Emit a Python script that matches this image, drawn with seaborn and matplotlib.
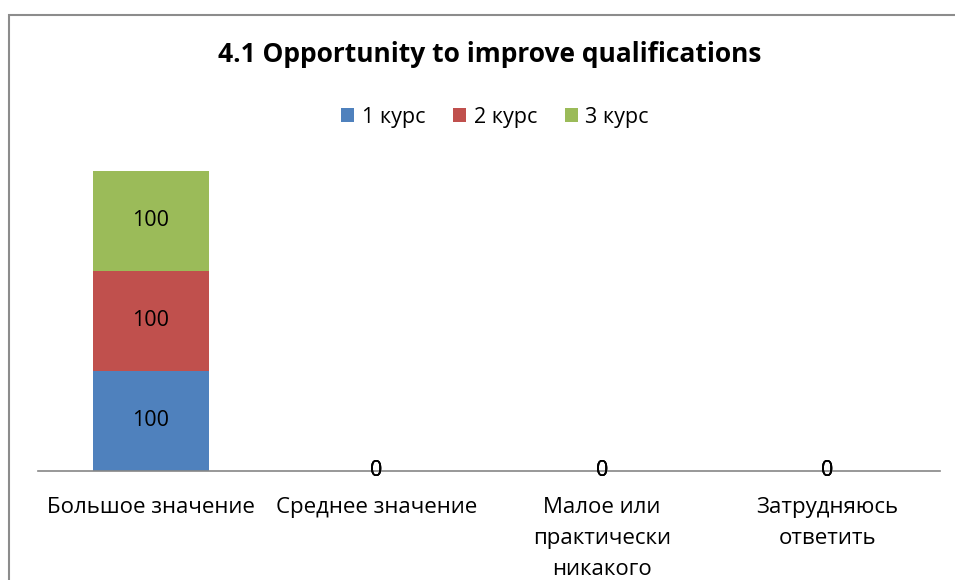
import numpy as np
import pandas as pd
import matplotlib
matplotlib.use("Agg")
import matplotlib.pyplot as plt
import seaborn as sns
from matplotlib.patches import Rectangle

categories = ["Большое значение", "Среднее значение",
              "Малое или\nпрактически\nникакого", "Затрудняюсь\nответить"]
kurs1 = [100, 0, 0, 0]
kurs2 = [100, 0, 0, 0]
kurs3 = [100, 0, 0, 0]
series_names = ["1 курс", "2 курс", "3 курс"]
colors = ["#4F81BD", "#C0504D", "#9BBB59"]

sns.set_style("white")
plt.rcParams["font.family"] = ["Open Sans", "DejaVu Sans"]
plt.rcParams["text.color"] = "black"
plt.rcParams["xtick.color"] = "black"

fig = plt.figure(figsize=(9.55, 5.8), dpi=100)
ax = fig.add_axes([38 / 955, 1 - 471 / 580, (940 - 38) / 955, 350 / 580])

df = pd.DataFrame({"cat": categories, "k1": kurs1, "k2": kurs2, "k3": kurs3})
bottom = np.zeros(len(categories))
for col, name, c in zip(["k1", "k2", "k3"], series_names, colors):
    sns.barplot(data=df, x="cat", y=col, color=c, saturation=1, width=0.516,
                bottom=bottom, label=name, ax=ax, linewidth=0)
    bottom = bottom + df[col].values

for cont in ax.containers:
    ax.bar_label(cont, labels=[f"{v:.0f}" for v in cont.datavalues],
                 label_type="center", fontsize=15.5, color="black")

ax.set_xlim(-0.5, 3.5)
ax.set_ylim(0, 350)
ax.set_xlabel("")
ax.set_ylabel("")
ax.set_yticks([])
for s in ["top", "left", "right"]:
    ax.spines[s].set_visible(False)
ax.spines["bottom"].set_color("#868686")
ax.spines["bottom"].set_linewidth(1.2)
ax.tick_params(axis="x", length=0, pad=19, labelsize=16, labelcolor="black")
for lbl in ax.get_xticklabels():
    lbl.set_linespacing(1.62)
    lbl.set_verticalalignment("top")

handles, labels = ax.get_legend_handles_labels()
if ax.get_legend() is not None:
    ax.get_legend().remove()
fig.legend(handles, labels, loc="center", bbox_to_anchor=(495 / 955, 1 - 117 / 580),
           ncol=3, frameon=False, fontsize=15.5, handlelength=0.6, handleheight=0.6,
           handletextpad=0.35, columnspacing=1.3)

fig.text(490 / 955, 1 - 55 / 580, "4.1 Opportunity to improve qualifications",
         ha="center", va="center", fontsize=19, fontweight="bold")

fig.patches.append(Rectangle((9 / 955, -0.1), 1.2, 1 - 15 / 580 + 0.1,
                             transform=fig.transFigure, fill=False,
                             edgecolor="#8c8c8c", linewidth=1.5))

fig.savefig("out.png", dpi=100)
